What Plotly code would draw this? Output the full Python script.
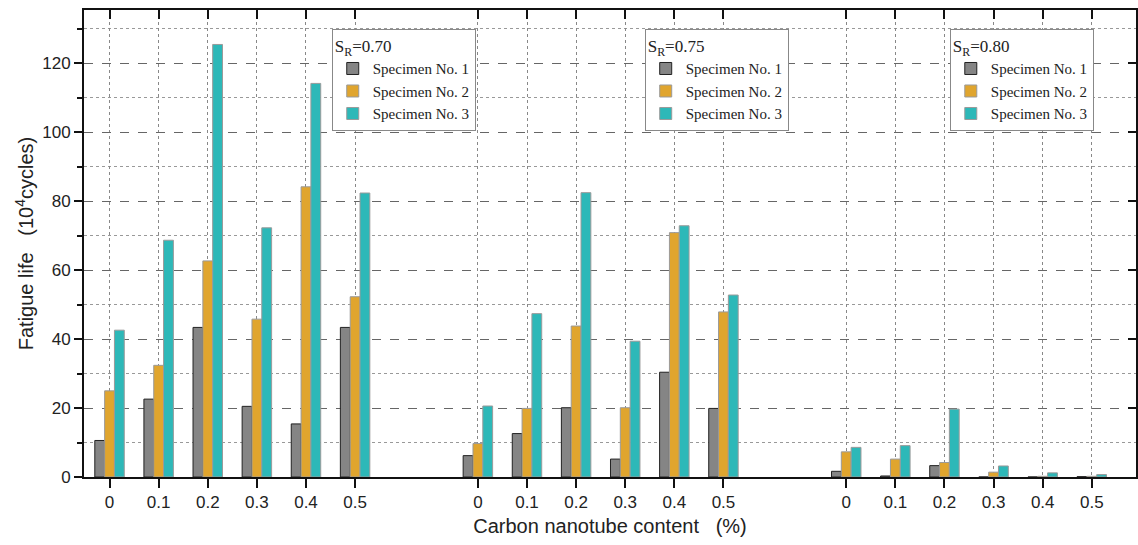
import plotly.graph_objects as go

# ---- data ----
contents = ["0", "0.1", "0.2", "0.3", "0.4", "0.5"]
stress_ratios = ["0.70", "0.75", "0.80"]
series_names = ["Specimen No. 1", "Specimen No. 2", "Specimen No. 3"]

sr070_spec1 = [10.6, 22.6, 43.4, 20.5, 15.4, 43.4]
sr070_spec2 = [25.0, 32.4, 62.7, 45.8, 84.2, 52.3]
sr070_spec3 = [42.6, 68.7, 125.5, 72.3, 114.2, 82.4]

sr075_spec1 = [6.2, 12.6, 20.1, 5.2, 30.4, 19.9]
sr075_spec2 = [9.7, 19.9, 43.8, 20.1, 70.9, 47.9]
sr075_spec3 = [20.6, 47.4, 82.5, 39.4, 72.9, 52.8]

sr080_spec1 = [1.65, 0.3, 3.3, 0.0, 0.0, 0.1]
sr080_spec2 = [7.3, 5.2, 4.2, 1.4, 0.2, 0.2]
sr080_spec3 = [8.6, 9.1, 19.7, 3.2, 1.2, 0.7]

groups = [
    [sr070_spec1, sr070_spec2, sr070_spec3],
    [sr075_spec1, sr075_spec2, sr075_spec3],
    [sr080_spec1, sr080_spec2, sr080_spec3],
]

# ---- styling ----
fill_colors = ["#858585", "#E0A52E", "#2DB8B8"]
line_colors = ["#222222", "#9a9a9a", "#9a9a9a"]
group_offset = 7.5
legend_keys = ["legend", "legend2", "legend3"]
legend_x = [0.2355, 0.533, 0.823]

fig = go.Figure()
tickvals, ticktext = [], []
for g, (sr, series) in enumerate(zip(stress_ratios, groups)):
    xs = [g * group_offset + i for i in range(len(contents))]
    tickvals += xs
    ticktext += contents
    for s, (name, vals) in enumerate(zip(series_names, series)):
        fig.add_trace(go.Bar(
            x=xs, y=vals, name=name,
            offsetgroup=str(s),
            marker=dict(color=fill_colors[s], line=dict(color=line_colors[s], width=1)),
            legend=legend_keys[g],
        ))

# empty helper trace so the mirrored top/right frame axes get drawn
fig.add_trace(go.Scatter(x=[None], y=[None], xaxis="x2", yaxis="y2",
                         showlegend=False, hoverinfo="skip", mode="markers"))

serif = "Liberation Serif, Times New Roman, serif"
legend_common = dict(
    xref="paper", yref="paper", xanchor="left", yanchor="top", y=0.959,
    bgcolor="white", bordercolor="#888888", borderwidth=1,
    font=dict(family=serif, size=15, color="#222"),
    tracegroupgap=0,
)
for g, key in enumerate(legend_keys):
    fig.update_layout({key: dict(
        legend_common, x=legend_x[g],
        title=dict(text="S<sub>R</sub>=" + stress_ratios[g],
                   font=dict(family=serif, size=17, color="#222")),
    )})

xrange = [-0.52, 20.9]
yrange = [0, 135.5]
sans = "Arial, Liberation Sans, sans-serif"
axis_font = dict(family=sans, size=17, color="#222")

fig.update_layout(
    width=1138, height=545,
    margin=dict(l=84, r=2, t=10, b=68),
    plot_bgcolor="white", paper_bgcolor="white",
    barmode="group", bargap=0.4, bargroupgap=0,
    xaxis=dict(
        range=xrange, tickmode="array", tickvals=tickvals, ticktext=ticktext,
        showline=True, linecolor="#111", linewidth=2,
        ticks="outside", ticklen=9, tickwidth=2, tickcolor="#111",
        showgrid=True, gridcolor="#888888", griddash="dot", gridwidth=1,
        zeroline=False, tickfont=axis_font,
        title=dict(text="Carbon nanotube content\u00a0\u00a0\u00a0(%)",
                   font=dict(family=sans, size=20, color="#222"),
                   standoff=8),
    ),
    yaxis=dict(
        range=yrange, tickmode="linear", tick0=0, dtick=20,
        showline=True, linecolor="#111", linewidth=2,
        ticks="outside", ticklen=8, tickwidth=2, tickcolor="#111",
        showgrid=True, gridcolor="#666666", griddash="dash", gridwidth=1,
        zeroline=False, tickfont=axis_font,
        minor=dict(dtick=10, tick0=0, ticks="outside", ticklen=5, tickcolor="#111", tickwidth=1.5,
                   showgrid=True, gridcolor="#999999", griddash="dot", gridwidth=1),
        title=dict(text="Fatigue life\u00a0\u00a0\u00a0(10<sup>4</sup>cycles)",
                   font=dict(family=sans, size=20, color="#222"),
                   standoff=3),
    ),
    xaxis2=dict(
        overlaying="x", side="top", anchor="y2", range=xrange,
        tickmode="array", tickvals=tickvals, showticklabels=False,
        showline=True, linecolor="#111", linewidth=2,
        ticks="inside", ticklen=9, tickwidth=2, tickcolor="#111",
        showgrid=False, zeroline=False,
    ),
    yaxis2=dict(
        overlaying="y", side="right", anchor="x2", range=yrange,
        tickmode="linear", tick0=0, dtick=20, showticklabels=False,
        showline=True, linecolor="#111", linewidth=2,
        ticks="inside", ticklen=8, tickwidth=2, tickcolor="#111",
        showgrid=False, zeroline=False,
    ),
)

fig.write_html("out.html")
